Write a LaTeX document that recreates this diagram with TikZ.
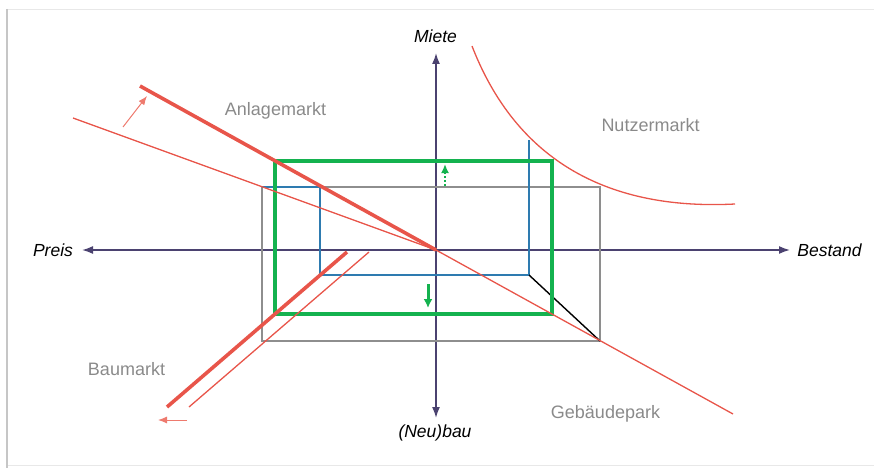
\documentclass[tikz,border=0pt]{standalone}
\usepackage{fontspec}
\setmainfont{Liberation Sans}
\usetikzlibrary{arrows.meta}
\definecolor{axiscol}{HTML}{4B4270}
\definecolor{redc}{HTML}{E8554A}
\definecolor{lightred}{HTML}{EE7A6E}
\definecolor{greenc}{HTML}{14B24F}
\definecolor{bluec}{HTML}{2E7BB0}
\definecolor{greyc}{HTML}{8E8E8E}
\definecolor{labelc}{HTML}{8A8A8A}
\definecolor{framec}{HTML}{C6C6C6}
\definecolor{framelight}{HTML}{E8E8E8}
\begin{document}
\begin{tikzpicture}[x=1pt,y=-1pt,
 axis/.style={draw=axiscol, line width=1.6pt, -{Latex[length=11pt,width=8pt]}},
 axlabel/.style={font=\fontsize{17.5}{20}\selectfont\itshape, text=black, inner sep=0pt, anchor=base},
 mlabel/.style={font=\fontsize{18}{20}\selectfont, text=labelc, inner sep=0pt, anchor=base},
 thinred/.style={draw=redc, line width=1.3pt},
 thickred/.style={draw=redc, line width=3.6pt},
 shiftarrow/.style={draw=lightred, line width=1pt, -{Latex[length=9pt,width=7pt]}},
 greenbox/.style={draw=greenc, line width=4.5pt},
 greybox/.style={draw=greyc, line width=1.8pt},
 bluepath/.style={draw=bluec, line width=1.5pt},
 greendown/.style={draw=greenc, line width=3pt, -{Latex[length=9pt,width=9pt]}},
 greenup/.style={draw=greenc, line width=2.5pt, dash pattern=on 2pt off 2pt, -{Latex[length=9pt,width=8pt]}}
]
\useasboundingbox (0,0) rectangle (874,468);
% frame
\draw[framelight, line width=1.5pt] (7,9.5) -- (874,9.5);
\draw[framelight, line width=1.2pt] (7,465.5) -- (874,465.5);
\draw[framec, line width=2.5pt] (7,9) -- (7,468);

% coordinates
\coordinate (O) at (436,250);
\coordinate (xl) at (82,250);
\coordinate (xr) at (790,250);
\coordinate (yt) at (436,53);
\coordinate (yb) at (436,418);

% labels
\node[axlabel] (miete) at (435.5,43) {Miete};
\node[axlabel] (neubau) at (435,437) {(Neu)bau};
\node[axlabel] (preis) at (53,256) {Preis};
\node[axlabel] (bestand) at (829.5,256) {Bestand};
\node[mlabel] (anlage) at (275.5,115) {Anlagemarkt};
\node[mlabel] (nutzer) at (650.5,131) {Nutzermarkt};
\node[mlabel] (bau) at (126.5,375) {Baumarkt};
\node[mlabel] (geb) at (605.5,418) {Gebäudepark};

% axes
\draw[axis] (O) -- (xl);
\draw[axis] (O) -- (xr);
\draw[axis] (O) -- (yt);
\draw[axis] (O) -- (yb);

% grey rectangle
\coordinate (g1) at (262,187);
\coordinate (g2) at (600,341);
\draw[greybox] (g1) rectangle (g2);

% blue path
\coordinate (b1) at (320,187);
\coordinate (b2) at (320,275);
\coordinate (b3) at (529,275);
\coordinate (b4) at (529,140);
\draw[bluepath] (g1) -- (b1) -- (b2) -- (b3) -- (b4);

% black line
\draw[black, line width=1.4pt] (b3) -- (g2);

% green rectangle
\coordinate (gr1) at (275,161);
\coordinate (gr2) at (552,314);
\draw[greenbox] (gr1) rectangle (gr2);

% green arrows
\coordinate (gu1) at (445,186);
\coordinate (gu2) at (445,164);
\draw[greenup] (gu1) -- (gu2);
\coordinate (gd1) at (428,284);
\coordinate (gd2) at (428,308);
\draw[greendown] (gd1) -- (gd2);

% red lines
\coordinate (a0) at (73,118);
\coordinate (a1) at (140,86);
\coordinate (a2) at (733,414);
\draw[thinred] (a0) -- (O);
\draw[thinred] (O) -- (a2);
\draw[thickred] (a1) -- (O);

\coordinate (m1) at (167,407);
\coordinate (m2) at (347,252);
\coordinate (n1) at (189,407);
\coordinate (n2) at (369,252);
\draw[thickred] (m1) -- (m2);
\draw[thinred] (n1) -- (n2);

% Nutzermarkt curve
\coordinate (c0) at (472,46);
\coordinate (c3) at (735,204);
\draw[thinred] (c0) .. controls (520,170) and (620,210) .. (c3);

% shift arrows
\coordinate (s1) at (123,127);
\coordinate (s2) at (147,96);
\draw[shiftarrow] (s1) -- (s2);
\coordinate (t1) at (187,420);
\coordinate (t2) at (158,420);
\draw[shiftarrow] (t1) -- (t2);
\end{tikzpicture}
\end{document}
